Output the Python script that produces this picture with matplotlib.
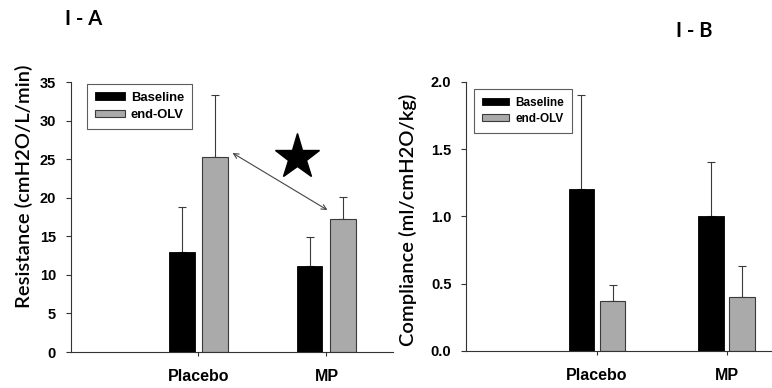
import matplotlib
matplotlib.use("Agg")
import matplotlib.pyplot as plt
import numpy as np

categories = ["Placebo", "MP"]
series = ["Baseline", "end-OLV"]

res_baseline = [13.0, 11.2]
res_baseline_err = [5.8, 3.7]
res_endolv = [25.3, 17.3]
res_endolv_err = [8.0, 2.8]

comp_baseline = [1.20, 1.00]
comp_baseline_err = [0.70, 0.40]
comp_endolv = [0.37, 0.40]
comp_endolv_err = [0.12, 0.23]

res_ticks = [0, 5, 10, 15, 20, 25, 30, 35]
comp_ticks = [0.0, 0.5, 1.0, 1.5, 2.0]

BLACK = "#000000"
GRAY = "#aaaaaa"
EDGE = "#3a3a3a"
TICKFONT = ["Liberation Sans", "DejaVu Sans"]
LABFONT = ["Lato", "DejaVu Sans"]

W, H = 772, 388
fig = plt.figure(figsize=(W / 100, H / 100), dpi=100)
axA = fig.add_axes([70.5 / W, 36 / H, 322.5 / W, 270 / H])
axB = fig.add_axes([466 / W, 37 / H, 306 / W, 269.3 / H])

x = np.arange(len(categories))
bw = 0.196


def draw(ax, base, base_err, end, end_err, ticks, fmt, off, ylim, xl, xr):
    ax.bar(x - off, base, bw, color=BLACK, edgecolor=BLACK, linewidth=0.6,
           label=series[0], zorder=2)
    ax.bar(x + off, end, bw, color=GRAY, edgecolor=EDGE, linewidth=0.8,
           label=series[1], zorder=2)
    ax.errorbar(x - off, base, yerr=[np.zeros(len(base)), base_err], fmt="none",
                ecolor=EDGE, elinewidth=0.8, capsize=3, capthick=0.8, zorder=1)
    ax.errorbar(x + off, end, yerr=[np.zeros(len(end)), end_err], fmt="none",
                ecolor=EDGE, elinewidth=0.8, capsize=3, capthick=0.8, zorder=1)
    ax.set_xlim(xl, xr)
    ax.set_ylim(*ylim)
    ax.set_yticks(ticks)
    ax.set_yticklabels([fmt.format(t) for t in ticks], family=TICKFONT,
                       fontweight="bold", fontsize=10.5)
    ax.set_xticks(x)
    ax.set_xticklabels(categories, family=TICKFONT, fontweight="bold", fontsize=11.5)
    ax.tick_params(axis="y", direction="out", length=3.5, width=0.8, color="#333333", pad=7)
    ax.tick_params(axis="x", direction="out", length=3, width=0.8, color="#333333", pad=9)
    for s in ["top", "right"]:
        ax.spines[s].set_visible(False)
    for s in ["left", "bottom"]:
        ax.spines[s].set_linewidth(0.8)
        ax.spines[s].set_color("#333333")


draw(axA, res_baseline, res_baseline_err, res_endolv, res_endolv_err, res_ticks,
     "{:d}", 0.129, (0, 35), -1.0, 1.52)
draw(axB, comp_baseline, comp_baseline_err, comp_endolv, comp_endolv_err, comp_ticks,
     "{:.1f}", 0.12, (0, 2.0), -1.01, 1.35)

legA = axA.legend(loc="upper left", bbox_to_anchor=(16.5 / 322.5, 1 - 2 / 270), borderaxespad=0,
                  frameon=True, fancybox=False,
                  prop={"family": TICKFONT, "weight": "bold", "size": 9.4},
                  handlelength=2.3, handleheight=0.5, borderpad=0.6, labelspacing=0.4,
                  handletextpad=0.46)
legA.get_frame().set_edgecolor("#333333")
legA.get_frame().set_linewidth(0.8)
legB = axB.legend(loc="upper left", bbox_to_anchor=(8 / 306, 1 - 7 / 269.3), borderaxespad=0,
                  frameon=True, fancybox=False,
                  prop={"family": TICKFONT, "weight": "bold", "size": 8.5},
                  handlelength=2.3, handleheight=0.5, borderpad=0.68, labelspacing=0.35,
                  handletextpad=0.5)
legB.get_frame().set_edgecolor("#333333")
legB.get_frame().set_linewidth(0.8)

# significance arrow and star
axA.annotate("", xy=(1.008, 18.4), xytext=(0.266, 25.8),
             arrowprops=dict(arrowstyle="<->", color="#444444", lw=0.8,
                             shrinkA=0, shrinkB=0, mutation_scale=9))
axA.plot([0.766], [25.3], marker="*", markersize=34, color="black", zorder=3)

# axis titles (placed as in the reference)
fig.text(24 / W, 1 - 186 / H, "Resistance (cmH2O/L/min)", rotation=90,
         ha="center", va="center", family=LABFONT, fontweight="semibold", fontsize=14.5)
fig.text(408 / W, 1 - 220 / H, "Compliance (ml/cmH2O/kg)", rotation=90,
         ha="center", va="center", family=LABFONT, fontweight="semibold", fontsize=14.5)

fig.text(65 / W, 1 - 25 / H, "I - A", family=LABFONT, fontweight="bold", fontsize=14.5)
fig.text(676 / W, 1 - 37 / H, "I - B", family=LABFONT, fontweight="bold", fontsize=14.5)

fig.savefig("out.png", dpi=100)
